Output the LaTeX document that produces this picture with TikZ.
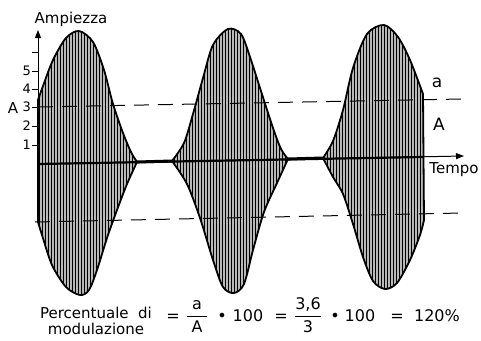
\documentclass[tikz,border=0pt]{standalone}
\usepackage{amsmath}
\usepackage{fontspec}
\setmainfont{DejaVu Sans}
\usetikzlibrary{arrows.meta,positioning}

% envelope outlines of the three bursts (x to the right, y downwards)
\def\lobeone{(38,222) -- plot[smooth] coordinates {(38,100) (43,86) (53,60) (66,38) (79,31) (93,42) (104,70) (113,104) (123,133) (131,152) (137,162)} -- plot[smooth] coordinates {(137,162) (127,184) (117,210) (107,238) (97,270) (89,290) (80,295) (66,287) (52,265) (42,235) (38,222)} -- cycle}
\def\lobetwo{(172,161) -- plot[smooth] coordinates {(172,161) (184,143) (193,114) (203,78) (213,45) (228,29) (241,34) (250,57) (260,88) (273,128) (281,149) (288,159)} -- plot[smooth] coordinates {(288,159) (277,183) (264,212) (253,250) (244,284) (234,293) (223,287) (213,260) (200,218) (187,184) (172,161)} -- cycle}
\def\lobethree{(323,158) -- plot[smooth] coordinates {(323,158) (333,141) (343,110) (353,68) (367,34) (384,25) (398,37) (410,60) (423,94)} -- (424,220) -- plot[smooth] coordinates {(424,220) (420,235) (410,260) (397,283) (385,289) (373,281) (363,257) (353,224) (343,194) (333,177) (323,158)} -- cycle}

\begin{document}
\begin{tikzpicture}[x=1pt, y=-1pt, font=\fontsize{15}{17}\selectfont]
\tikzset{
  lbl/.style={inner sep=0pt, anchor=base},
  num/.style={inner sep=0pt, anchor=east, font=\fontsize{13}{15}\selectfont},
  eqn/.style={inner sep=0pt, anchor=base, font=\fontsize{16}{18}\selectfont},
  axis/.style={line width=1pt, -{Triangle[length=8pt, width=6pt]}},
  env/.style={line width=1.8pt, line join=round},
  hatch/.style={line width=0.8pt},
  guide/.style={line width=1pt, dash pattern=on 15pt off 9pt},
}
\useasboundingbox (0,0) rectangle (481,340);

% the three bursts
\foreach \lb in {\lobeone,\lobetwo,\lobethree}{
  \begin{scope}
    \clip \lb;
    \fill[gray!55] (30,20) rectangle (430,300);
    \foreach \x in {36,39,...,426}
      \draw[hatch] (\x,20) -- (\x,300);
  \end{scope}
  \draw[env] \lb;
}

% axes
\coordinate (O) at (38,164);
\coordinate (ytip) at (38,30);
\coordinate (xtip) at (464,156);
\draw[axis] (O) -- (ytip);
\draw[axis] (O) -- (xtip);
\draw[line width=2.2pt] (O) -- (423,157);
\draw[line width=3pt] (137,162) -- (172,161);
\draw[line width=3pt] (288,159) -- (323,158);

% levels +A and -A
\draw[guide] (38,107) -- (462,99);
\draw[guide] (35,222) -- (462,213);

% ticks
\foreach \v/\y in {1/145,2/126,3/107,4/89,5/71}{
  \draw[line width=0.8pt] (32,\y) -- (38,\y);
  \node[num] (t\v) at (31,\y) {\v};
}
\draw[line width=0.8pt] (32,52) -- (38,52);

% labels
\node[lbl] (amp) at (71,23) {Ampiezza};
\node[lbl] (Aleft) at (13,113) {A};
\node[lbl, font=\fontsize{17}{19}\selectfont] (asmall) at (437,87) {a};
\node[lbl, font=\fontsize{17}{19}\selectfont] (Aright) at (439,130) {A};
\node[lbl] (tempo) at (454,173) {Tempo};

% formula
\node[lbl] (perc) at (96,318) {Percentuale\ \ di};
\node[lbl] (modul) at ([yshift=-16pt]perc.base) {modulazione};
\node[eqn] (eqa) at (173,321) {=};
\node[eqn] (fra) at (197,321) {\(\dfrac{\text{a}}{\hspace{5pt}\text{A}\hspace{5pt}}\)};
\node[eqn] (dota) at (222,321) {•};
\node[eqn] (hunda) at (248,321) {100};
\node[eqn] (eqb) at (281,321) {=};
\node[eqn] (frb) at (308,321) {\(\dfrac{\text{3,6}}{\text{3}}\)};
\node[eqn] (dotb) at (335,321) {•};
\node[eqn] (hundb) at (360,321) {100};
\node[eqn] (eqc) at (397,321) {=};
\node[eqn] (res) at (437,321) {120\%};
\end{tikzpicture}
\end{document}
